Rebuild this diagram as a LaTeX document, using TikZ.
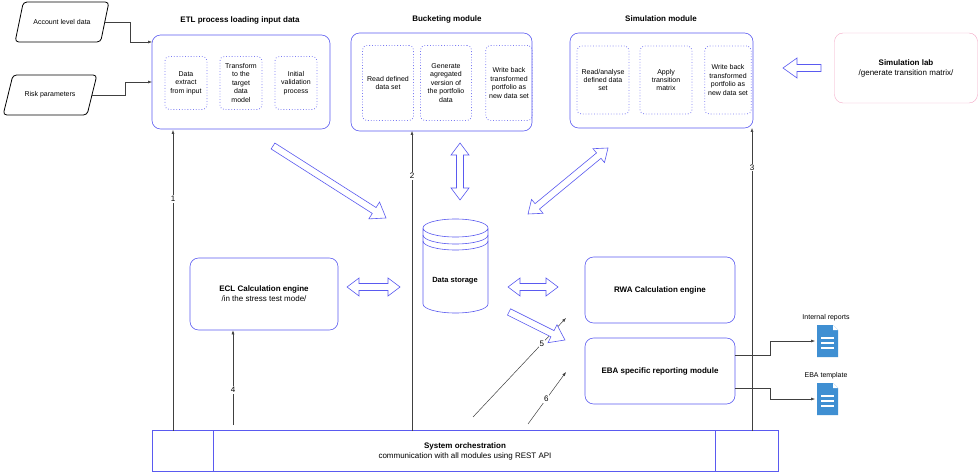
\documentclass[tikz,border=0pt]{standalone}
\usepackage{fontspec}
\setmainfont{Liberation Sans}
\usetikzlibrary{positioning, shapes.geometric, calc, arrows.meta}
\definecolor{modblue}{HTML}{5A5AF0}
\definecolor{labpink}{HTML}{F2A6C4}
\definecolor{docblue}{HTML}{3F8FD2}
\tikzset{
  module/.style={draw=modblue, rounded corners=0.3cm, line width=0.6pt},
  substep/.style={draw=modblue!80, dotted, line width=0.8pt, rounded corners=0.15cm, align=center, font=\fontsize{7}{8.5}\selectfont},
  title/.style={font=\bfseries\fontsize{8}{10}\selectfont},
  input/.style={draw, trapezium, trapezium left angle=60, trapezium right angle=120, rounded corners=0.12cm,
    line width=0.8pt, minimum width=3.3cm, minimum height=1.4cm, trapezium stretches=true, font=\fontsize{7}{8.5}\selectfont},
  engine/.style={module, align=center, font=\fontsize{8}{10}\selectfont},
  link/.style={draw=black!75, -{Latex[length=4pt,width=3pt]}, line width=0.5pt},
  num/.style={fill=white, inner sep=1pt, font=\fontsize{8}{9}\selectfont},
  doc/.style={font=\fontsize{7}{8.5}\selectfont}
}
% hollow block arrow from #1 to #2, #3 = 1 or 2 heads
\newcommand{\blockarrow}[3]{%
  \path let \p1=($(#2)-(#1)$), \n1={atan2(\y1,\x1)}, \n2={veclen(\x1,\y1)} in
    [draw=modblue, fill=white, line width=0.6pt, shift={(#1)}, rotate=\n1]
    \ifnum#3=2
      (0pt,0pt) -- (12pt,-9pt) -- (12pt,-3.5pt) -- (\n2-12pt,-3.5pt) -- (\n2-12pt,-9pt) -- (\n2,0pt)
      -- (\n2-12pt,9pt) -- (\n2-12pt,3.5pt) -- (12pt,3.5pt) -- (12pt,9pt) -- cycle
    \else
      (0pt,-3.5pt) -- (\n2-14pt,-3.5pt) -- (\n2-14pt,-10pt) -- (\n2,0pt)
      -- (\n2-14pt,10pt) -- (\n2-14pt,3.5pt) -- (0pt,3.5pt) -- cycle
    \fi;}
\begin{document}
\begin{tikzpicture}[x=1pt, y=-1pt]
\useasboundingbox (0,0) rectangle (980,473);

% inputs
\node[input] (acct) at (62,22) {Account level data};
\node[input] (risk) at (50,95) {Risk parameters};

% ETL
\node[title] (etlT) at (240,20) {ETL process loading input data};
\draw[module] (152,35) rectangle (330,129);
\coordinate (etlW1) at (152,42); \coordinate (etlW2) at (152,82);
\node[substep, minimum width=42pt, minimum height=53pt] (extract) at (186,83) {Data\\extract\\from input};
\node[substep, minimum width=42pt, minimum height=53pt] (transform) at (241,83) {Transform\\to the\\target\\data\\model};
\node[substep, minimum width=42pt, minimum height=53pt] (valid) at (296,83) {Initial\\validation\\process};

% Bucketing
\node[title] (buckT) at (447,19) {Bucketing module};
\draw[module] (351,33) rectangle (532,131);
\node[substep, minimum width=51pt, minimum height=75pt] (readB) at (388,83) {Read defined\\data set};
\node[substep, minimum width=51pt, minimum height=75pt] (aggB) at (446,83) {Generate\\agregated\\version of\\the portfolio\\data};
\node[substep, minimum width=42pt, minimum height=75pt] (writeB) at (509,83) {Write back\\transformed\\portfolio as\\new data set};

% Simulation
\node[title] (simT) at (661,19) {Simulation module};
\draw[module] (570,33) rectangle (753,128);
\node[substep, minimum width=52pt, minimum height=68pt] (readS) at (603,80) {Read/analyse\\defined data\\set};
\node[substep, minimum width=52pt, minimum height=68pt] (applyS) at (666,80) {Apply\\transition\\matrix};
\node[substep, minimum width=42pt, minimum height=68pt] (writeS) at (728,80) {Write back\\transformed\\portfolio as\\new data set};

% Simulation lab
\node[draw=labpink, rounded corners=0.3cm, minimum width=143pt, minimum height=70pt, align=center,
  font=\fontsize{8}{10}\selectfont] (lab) at (906,68) {\textbf{Simulation lab}\\/generate transition matrix/};

% data storage
\node[minimum width=66pt, minimum height=95pt] (store) at (455,265) {};
\draw[modblue, line width=0.6pt, fill=white] (423,228) arc[start angle=180, end angle=360, x radius=32.5pt, y radius=9pt]
  arc[start angle=0, end angle=180, x radius=32.5pt, y radius=9pt] -- (423,304)
  arc[start angle=180, end angle=360, x radius=32.5pt, y radius=9pt] -- (488,228);
\draw[modblue, line width=0.6pt] (423,235) arc[start angle=180, end angle=360, x radius=32.5pt, y radius=9pt];
\draw[modblue, line width=0.6pt] (423,241) arc[start angle=180, end angle=360, x radius=32.5pt, y radius=9pt];
\node[font=\bfseries\fontsize{7.5}{9}\selectfont] (storeT) at (455,281) {Data storage};

% engines
\node[engine, minimum width=148pt, minimum height=72pt] (ecl) at (264,294) {\textbf{ECL Calculation engine}\\/in the stress test mode/};
\node[engine, minimum width=150pt, minimum height=66pt, font=\bfseries\fontsize{8}{10}\selectfont] (rwa) at (660,290) {RWA Calculation engine};
\node[engine, minimum width=150pt, minimum height=66pt, font=\bfseries\fontsize{8}{10}\selectfont] (eba) at (660,371) {EBA specific reporting module};

% orchestration
\node[draw=modblue, line width=0.6pt, minimum width=626pt, minimum height=41pt, align=center,
  font=\fontsize{8}{10}\selectfont] (orch) at (465,451) {\textbf{System orchestration}\\communication with all modules using REST API};
\draw[modblue, line width=0.6pt] (213,431) -- (213,472) (715,431) -- (715,472);

% reports
\foreach \y/\name/\txt in {341/rep1/Internal reports, 399/rep2/EBA template}{
  \fill[docblue] (817,\y-16) -- (833,\y-16) -- (838,\y-11) -- (838,\y+16) -- (817,\y+16) -- cycle;
  \fill[white] (833,\y-16) -- (838,\y-11) -- (833,\y-11) -- cycle;
  \foreach \d in {-3,2,7} \draw[white, line width=1.2pt] (821,\y+\d) -- (834,\y+\d);
  \coordinate (\name) at (815,\y);
  \node[doc] at (826,\y-23) {\txt};
}

% input connectors
\draw[link] (acct.east) -- (130,22) -- (130,42) -- (etlW1);
\draw[link] (risk.east) -- (125,95) -- (125,82) -- (etlW2);
\draw[link] (eba.east |- 0,355) -- (770,355) -- (770,341) -- (rep1);
\draw[link] (eba.east |- 0,388) -- (770,388) -- (770,399) -- (rep2);

% orchestration links
\draw[link] (173,431) -- node[num, pos=0.77]{1} (173,130);
\draw[link] (412,431) -- node[num, pos=0.85]{2} (412,131);
\draw[link] (752,431) -- node[num, pos=0.87]{3} (752,128);
\draw[link] (233,425) -- node[num, pos=0.37]{4} (ecl.south -| 233,0);
\draw[link] (473,417) -- node[num, pos=0.74]{5} (566,318);
\draw[link] (528,424) -- node[num, pos=0.48]{6} (566,372);

% block arrows
\blockarrow{821,68}{783,68}{1}
\blockarrow{273,146}{386,218}{1}
\blockarrow{460,143}{460,200}{2}
\blockarrow{608,148}{528,214}{2}
\blockarrow{347,287}{400,287}{2}
\blockarrow{508,287}{558,287}{2}
\blockarrow{509,312}{565,340}{1}
\end{tikzpicture}
\end{document}
